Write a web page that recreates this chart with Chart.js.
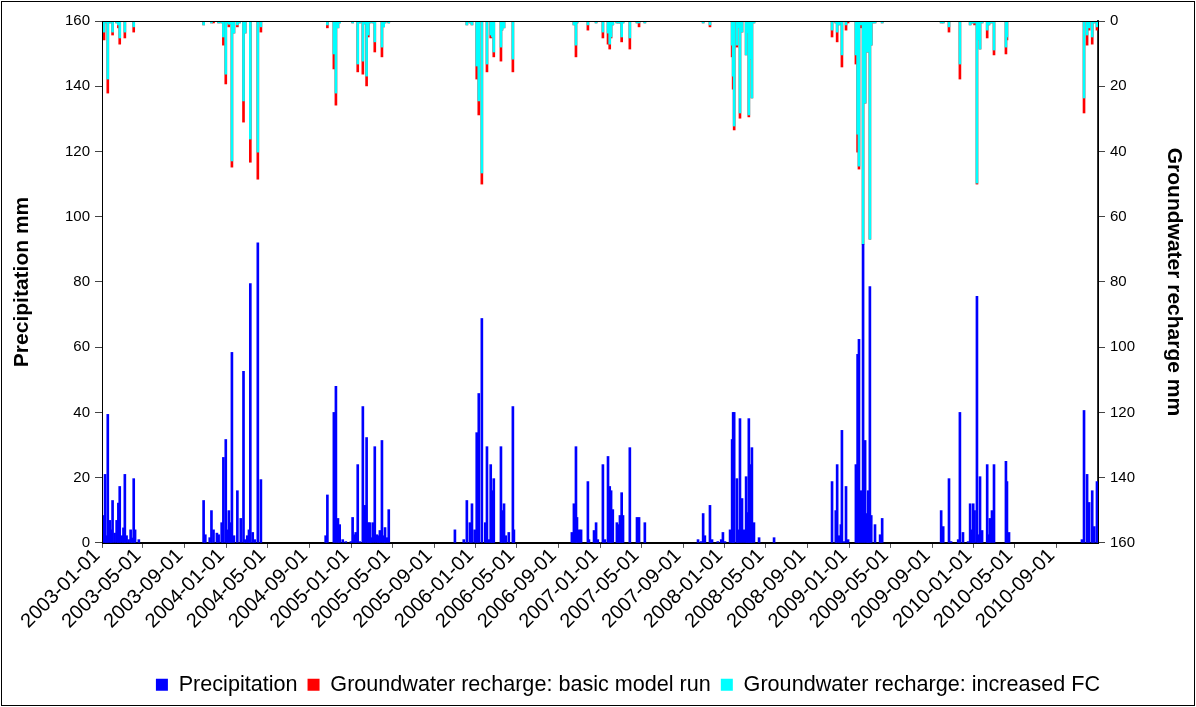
<!DOCTYPE html>
<html>
<head>
<meta charset="utf-8">
<script src="https://cdn.jsdelivr.net/npm/chart.js@4.4.1/dist/chart.umd.min.js"></script>
<style>
  html, body { margin: 0; padding: 0; background: #fff; }
  #wrap { width: 1196px; height: 707px; position: relative; }
</style>
</head>
<body>
<div id="wrap"><canvas id="chart" width="1196" height="707"></canvas></div>
<script>
// Daily rain events and modelled groundwater recharge (mm), one row per day with any value.
const dates = [
  '2003-01-04','2003-01-07','2003-01-10','2003-01-14','2003-01-18','2003-01-24','2003-01-28','2003-02-01','2003-02-07','2003-02-13','2003-02-18','2003-02-22','2003-02-28','2003-03-05','2003-03-09','2003-03-14','2003-03-20','2003-03-26','2003-03-30','2003-04-04','2003-04-08','2003-04-19',
  '2003-10-26','2003-10-31','2003-11-13','2003-11-18','2003-11-24','2003-12-04','2003-12-09','2003-12-18','2003-12-23','2003-12-30','2004-01-04','2004-01-08','2004-01-12','2004-01-17','2004-01-23','2004-02-02','2004-02-08','2004-02-12','2004-02-20','2004-02-25','2004-03-02','2004-03-07','2004-03-11','2004-03-18','2004-03-24','2004-04-02','2004-04-11',
  '2004-10-18','2004-10-23','2004-11-11','2004-11-17','2004-11-23','2004-11-28','2004-12-07','2004-12-16','2004-12-31','2005-01-05','2005-01-11','2005-01-14','2005-01-20','2005-01-26','2005-02-04','2005-02-10','2005-02-15','2005-02-20','2005-02-24','2005-02-28','2005-03-05','2005-03-11','2005-03-17','2005-03-22','2005-03-26','2005-04-01','2005-04-06','2005-04-10','2005-04-15','2005-04-21',
  '2005-11-01','2005-11-27','2005-12-06','2005-12-15','2005-12-21','2005-12-29','2006-01-04','2006-01-10','2006-01-19','2006-01-29','2006-02-03','2006-02-09','2006-02-14','2006-02-19','2006-02-23','2006-03-16','2006-03-19','2006-03-25','2006-03-30','2006-04-08','2006-04-20','2006-04-23',
  '2006-10-10','2006-10-16','2006-10-22','2006-10-25','2006-10-31','2006-11-06','2006-11-26','2006-11-29','2006-12-14','2006-12-20','2006-12-25','2007-01-09','2007-01-15','2007-01-24','2007-01-29','2007-02-02','2007-02-07','2007-02-19','2007-02-24','2007-02-28','2007-03-05','2007-03-09','2007-03-29','2007-04-19','2007-04-25','2007-05-12',
  '2007-10-15','2007-10-24','2007-10-30','2007-11-04','2007-11-19','2007-11-25','2007-12-12','2007-12-22','2007-12-27','2008-01-02','2008-01-17','2008-01-23','2008-01-26','2008-01-29','2008-02-06','2008-02-09','2008-02-15','2008-02-21','2008-02-27','2008-03-04','2008-03-08','2008-03-12','2008-03-17','2008-03-21','2008-03-27','2008-04-11','2008-05-25',
  '2008-11-11','2008-11-22','2008-11-26','2008-12-02','2008-12-07','2008-12-10','2008-12-16','2008-12-22','2008-12-28','2009-01-20','2009-01-25','2009-01-29','2009-02-04','2009-02-10','2009-02-16','2009-02-22','2009-02-25','2009-03-02','2009-03-06','2009-03-11','2009-03-17','2009-04-01','2009-04-07',
  '2009-09-27','2009-10-03','2009-10-20','2009-10-26','2009-11-16','2009-11-21','2009-11-30','2009-12-15','2009-12-21','2009-12-26','2009-12-30','2010-01-03','2010-01-10','2010-01-14','2010-01-19','2010-01-25','2010-02-09','2010-02-14','2010-02-17','2010-02-23','2010-03-01','2010-04-05','2010-04-08','2010-04-14',
  '2010-11-14','2010-11-20','2010-11-29','2010-12-05','2010-12-14','2010-12-20','2010-12-28'
];

const precipitation = [
  8.4,0,21,2.2,39.4,6.9,4,13,3,6.9,12.2,17.3,2.2,4.6,21,2.2,1,4,1.5,19.7,4,1,
  13,2.5,1.6,9.9,4,3,2.5,6.2,26.2,31.7,4,9.9,6.2,58.4,2.2,16,0,7.5,52.6,1,2.2,4,79.5,3.2,1,92,19.4,
  2.2,14.7,40,48,7.5,5.6,1,0.4,0.4,7.8,2.5,3.2,24,0.4,41.8,11.5,32.3,6.2,6.2,1.6,6.2,29.5,2.5,2.2,3.8,31.4,2.2,4.7,1.6,10.2,
  4,1,13,6.2,12,4,33.8,45.8,68.8,6.2,29.5,1,24,16,19.7,29.5,9.9,12,2.2,3.2,41.8,4,
  3.2,12,29.5,7.8,4,4,18.8,1,3.8,6.2,1,24,1,26.5,17.3,16,10.2,6.2,5.6,8.4,15.4,8.4,29.2,7.8,7.8,6.2,
  1,0.4,9,2.2,11.5,1,0.4,1,3.2,0.4,4,31.7,40,40,19.7,4,38.1,13.6,4,20.3,9.3,38.1,24,29.2,6.2,1.6,1.6,
  18.8,9.9,24,2.2,5.6,34.5,0.4,17.3,1,24,57.8,62.4,16,91.5,31.4,9,16,78.6,8.4,0,5.6,2.5,7.5,
  9.9,5,19.7,0.4,1,40,3.2,0.4,12,4,12,9.9,75.6,2.5,20.3,3.8,24,2.5,7.5,9.9,24,25,18.8,3.2,
  1,40.6,21,12.4,16,5,18.8
];

const rechargeBasic = [
  0,5.8,0,0.6,22.1,0.6,0,4.3,0,0.6,2.1,7.1,0,0,5.2,0,0,0,0,3.4,0,0,
  1.2,0,0,0.6,0.6,0,0.6,0.6,7.4,19.3,0.6,1.8,0.9,44.8,3.7,1.8,0.6,0,31,3.7,0,0,43.3,0,0,48.5,3.4,
  0,2.1,14.7,25.8,2.1,0.6,0,0,0,0.6,0,0,15.6,0.6,16.3,0.9,19.9,4.9,0.6,0,0.6,9.5,0,0,0,11,1.8,0.6,0,0.6,
  0,0,1.2,0.6,1.2,0,17.8,28.8,50,0,15.6,0,5.2,4.9,11,12.3,2.8,2.1,0,0,15.6,0,
  0,1.2,11,0.6,0,0,2.8,0,0,0.6,0,5.2,0,7.1,8.6,5.2,1.2,0.6,0.6,0.6,6.4,0.6,8.6,0.6,1.8,0.6,
  0,0,0.6,0,1.8,0,0,0,0,0,0,11,20.9,33.4,8,2.1,29.8,3.4,0,10.4,3.7,29.4,11.7,23.6,0.6,0,0,
  4.9,0.6,6.4,1.2,0.6,14.1,0,2.8,0.6,13.2,40.2,45.4,2.1,68.4,25.2,9.5,9.5,66.9,7.4,0.6,0.6,0,0.6,
  0.6,0.6,3.4,0,0,17.8,0,0,1.2,0.6,0.6,1.2,50,5.8,8.6,0.6,5.2,1.2,0.6,0.6,10.4,10.1,5.8,0,
  0,28.2,7.4,2.8,7.1,0.6,2.8
];

const rechargeFC = [
  0,3.4,0,0.6,17.8,0.6,0,3.4,0,0.6,1.2,5.2,0,0,3.4,0,0,0,0,1.8,0,0,
  1.2,0,0,0.6,0,0,0.6,0.6,4.9,16.3,0.6,1,0.9,42.9,3.7,1.2,0.6,0,24.5,3.7,0,0,36.2,0,0,40.2,1.8,
  0,1.2,10.1,22.1,2.1,0.6,0,0,0,0.6,0,0,13.2,0.6,12.3,0.9,16.9,4.3,0.6,0,0.6,6.4,0,0,0,8,1.8,0.6,0,0.6,
  0,0,1.2,0.6,1.2,0,13.8,24.5,46.6,0,13.2,0,4.3,4.9,9.5,8,2.8,2.1,0,0,11.7,0,
  0,1.2,7.4,0.6,0,0,1.2,0,0,0.6,0,3.4,0,3.7,7.1,4.9,1.2,0.6,0.6,0.6,4.9,0.6,5.2,0.6,0.6,0.6,
  0,0,0.6,0,1.2,0,0,0,0,0,0,7.4,16.9,32.2,7.4,2.1,28.2,3.4,0,10.4,3.7,28.8,11.7,23.6,0.6,0,0,
  2.8,0.6,3.4,1.2,0.6,10.4,0,1.2,0,10.4,34.7,44.5,1.2,68.4,25.2,9.5,9.5,66.9,7.4,0.6,0.6,0,0.6,
  0.6,0.6,1.8,0,0,13.2,0,0,1.2,0.6,0.6,0.6,49.7,5.8,8.6,0.6,2.8,1.2,0.6,0.6,8.9,8,4.9,0,
  0,23.6,4.3,2.1,4.9,0.6,1.8
];

// Date axis: labelled every four months
const tickDates = [
  '2003-01-01','2003-05-01','2003-09-01','2004-01-01','2004-05-01','2004-09-01',
  '2005-01-01','2005-05-01','2005-09-01','2006-01-01','2006-05-01','2006-09-01',
  '2007-01-01','2007-05-01','2007-09-01','2008-01-01','2008-05-01','2008-09-01',
  '2009-01-01','2009-05-01','2009-09-01','2010-01-01','2010-05-01','2010-09-01'
];
const axisStart = '2003-01-01';
const axisEnd = '2010-12-31';

const FONT = '"Liberation Sans", Arial, Helvetica, sans-serif';

function dayNumber(iso) {
  const [y, m, d] = iso.split('-').map(Number);
  const [y0, m0, d0] = axisStart.split('-').map(Number);
  return Math.round((Date.UTC(y, m - 1, d) - Date.UTC(y0, m0 - 1, d0)) / 86400000);
}
function toPoints(values) {
  return dates.map((d, i) => ({ x: dayNumber(d), y: values[i] })).filter(p => p.y > 0);
}
const tickLabelByDay = {};
tickDates.forEach(d => { tickLabelByDay[dayNumber(d)] = d; });

// Frame around the plot area and around the whole figure; legend nudged right
const framePlugin = {
  id: 'frame',
  afterLayout(chart) {
    const lg = chart.legend;
    if (lg) { lg.left += 30; lg.right += 30; }
  },
  afterDatasetsDraw(chart) {
    const { ctx, chartArea: a } = chart;
    ctx.save();
    ctx.strokeStyle = '#000';
    ctx.lineWidth = 1;
    ctx.strokeRect(Math.round(a.left) + 0.5, Math.round(a.top) + 0.5,
                   Math.round(a.right - a.left), Math.round(a.bottom - a.top));
    ctx.restore();
  },
  afterDraw(chart) {
    const { ctx, width, height } = chart;
    ctx.save();
    ctx.strokeStyle = '#000';
    ctx.lineWidth = 1;
    ctx.strokeRect(1.5, 1.5, width - 3, height - 3);
    ctx.restore();
  }
};

const yTickFont = { family: FONT, size: 15 };
const xTickFont = { family: FONT, size: 20 };
const titleFont = { family: FONT, size: 21, weight: 'bold' };

new Chart(document.getElementById('chart'), {
  type: 'bar',
  data: {
    datasets: [
      { label: 'Precipitation', data: toPoints(precipitation), yAxisID: 'y',
        backgroundColor: '#0000FF', order: 0 },
      { label: 'Groundwater recharge: basic model run', data: toPoints(rechargeBasic), yAxisID: 'y2',
        backgroundColor: '#FF0000', order: 2 },
      { label: 'Groundwater recharge: increased FC', data: toPoints(rechargeFC), yAxisID: 'y2',
        backgroundColor: '#00FFFF', order: 1 }
    ]
  },
  options: {
    responsive: false,
    animation: false,
    devicePixelRatio: 1,
    layout: { padding: { left: 2, right: 2, top: 21, bottom: 1.5 } },
    datasets: { bar: { grouped: false, barThickness: 2, borderWidth: 0 } },
    plugins: {
      legend: {
        position: 'bottom',
        labels: {
          boxWidth: 12, boxHeight: 12, padding: 10, color: '#000',
          font: { family: FONT, size: 21.6 },
          sort: (a, b) => a.datasetIndex - b.datasetIndex
        }
      },
      tooltip: { enabled: false }
    },
    scales: {
      x: {
        type: 'linear',
        min: 0,
        max: dayNumber(axisEnd),
        offset: false,
        afterBuildTicks: (scale) => {
          scale.ticks = tickDates.map(d => ({ value: dayNumber(d) }));
        },
        afterFit: (scale) => { scale.height = 121; },
        ticks: {
          autoSkip: false, maxRotation: 45, minRotation: 45, padding: -4, labelOffset: -5,
          color: '#000', font: xTickFont,
          callback: (v) => tickLabelByDay[v] || ''
        },
        grid: { drawOnChartArea: false, offset: false, tickLength: 5, color: '#555' },
        border: { display: true, color: '#000', width: 1 }
      },
      y: {
        position: 'left',
        min: 0, max: 160,
        afterFit: (scale) => { scale.width = 100; },
        ticks: { stepSize: 20, color: '#000', font: yTickFont, padding: 5 },
        grid: { drawOnChartArea: false, tickLength: 7, color: '#444' },
        border: { display: true, color: '#000', width: 1 },
        title: { display: true, text: 'Precipitation mm', color: '#000', font: titleFont,
                 padding: { top: 8, bottom: 0 } }
      },
      y2: {
        position: 'right',
        reverse: true,
        min: 0, max: 160,
        afterFit: (scale) => { scale.width = 96; },
        ticks: { stepSize: 20, color: '#000', font: yTickFont, padding: 5 },
        grid: { drawOnChartArea: false, tickLength: 7, color: '#444' },
        border: { display: true, color: '#333', width: 2 },
        title: { display: true, text: 'Groundwater recharge mm', color: '#000', font: titleFont,
                 padding: { top: 8, bottom: 0 } }
      }
    }
  },
  plugins: [framePlugin]
});
</script>
</body>
</html>
